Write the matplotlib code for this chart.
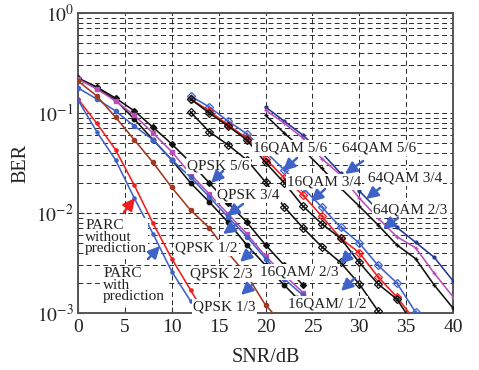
import matplotlib
matplotlib.use('Agg')
import matplotlib.pyplot as plt

plt.rcParams['font.family'] = ['Liberation Serif', 'DejaVu Serif']
plt.rcParams['mathtext.fontset'] = 'stix'

# ---------------- data ----------------
# QPSK family (start at 0 dB)
snr_qa = [0, 2, 4, 6, 8, 10, 12, 14, 16, 18, 20, 22, 24]
ber_q_black_a = [0.224, 0.182, 0.141, 0.105, 0.072, 0.049, 0.032, 0.020, 0.0126, 0.0081, 0.0048, 0.0030, 0.0019]
snr_qb = [0, 2, 4, 6, 8, 10, 12, 14, 16, 18, 20, 22, 23.4]
ber_q_black_b = [0.219, 0.178, 0.135, 0.087, 0.054, 0.034, 0.020, 0.0129, 0.0081, 0.0048, 0.0030, 0.0019, 0.0014]
ber_q_magenta = [0.219, 0.174, 0.132, 0.095, 0.063, 0.041, 0.0245, 0.0155, 0.0098, 0.0062, 0.0037, 0.0024, 0.0016]
ber_q_blue = [0.178, 0.138, 0.105, 0.074, 0.054, 0.034, 0.0229, 0.0145, 0.0091, 0.0058, 0.0035, 0.0022, 0.0015]
snr_q13 = [0, 2, 4, 6, 8, 10, 12, 14, 16, 18, 20, 21]
ber_q13 = [0.209, 0.148, 0.091, 0.054, 0.032, 0.018, 0.0107, 0.0071, 0.0040, 0.0024, 0.0012, 0.00095]

# PARC curves
snr_parc_wo = [0, 2, 4, 6, 8, 10, 12, 14]
ber_parc_wo = [0.138, 0.079, 0.043, 0.019, 0.0079, 0.0035, 0.0017, 0.00083]
snr_parc_w = [0, 2, 4, 6, 8, 10, 12]
ber_parc_w = [0.135, 0.065, 0.034, 0.0141, 0.0062, 0.0026, 0.00132]

# 16QAM family (start at 12 dB)
snr_16 = [12, 14, 16, 18, 20, 22, 24, 26, 28, 30, 32, 34, 36]
ber_16_blue = [0.148, 0.115, 0.083, 0.062, 0.041, 0.027, 0.0178, 0.0115, 0.0072, 0.0050, 0.0030, 0.0020, 0.00102]
ber_16_red = [0.138, 0.105, 0.076, 0.056, 0.035, 0.0224, 0.0151, 0.0093, 0.0056, 0.0040, 0.0023, 0.00145, 0.00083]
ber_16_black_a = [0.138, 0.100, 0.074, 0.054, 0.032, 0.020, 0.0117, 0.0078, 0.0056, 0.0032, 0.00195, 0.00138, 0.00072]
snr_16b = [12, 14, 16, 18, 20, 22, 24, 26, 28, 30, 32]
ber_16_black_b = [0.102, 0.065, 0.048, 0.034, 0.0204, 0.0115, 0.0071, 0.0046, 0.0032, 0.00195, 0.00105]

# 64QAM family (start at 20 dB)
snr_64 = [20, 22, 24, 26, 28, 30, 32, 34, 36, 38, 40]
ber_64_navy = [0.115, 0.083, 0.060, 0.040, 0.025, 0.0166, 0.0107, 0.0072, 0.0051, 0.0036, 0.0021]
ber_64_magenta = [0.107, 0.079, 0.056, 0.035, 0.024, 0.0141, 0.0089, 0.0058, 0.0045, 0.0025, 0.00145]
ber_64_black = [0.095, 0.063, 0.043, 0.028, 0.0178, 0.0117, 0.0076, 0.0048, 0.0035, 0.0019, 0.00112]

# labels
label_texts = ['PARC\nwithout\nprediction', 'PARC\nwith\nprediction',
               'QPSK 5/6', 'QPSK 3/4', 'QPSK 1/2', 'QPSK 2/3', 'QPSK 1/3',
               '16QAM 5/6', '64QAM 5/6', '16QAM 3/4', '64QAM 3/4', '64QAM 2/3',
               '16QAM/ 2/3', '16QAM/ 1/2']
xtick_vals = [0, 5, 10, 15, 20, 25, 30, 35, 40]
xtick_labels = ['0', '5', '10', '15', '20', '25', '30', '35', '40']
ytick_vals = [1e-3, 1e-2, 1e-1, 1e0]
ytick_labels = ['$10^{-3}$', '$10^{-2}$', '$10^{-1}$', '$10^{0}$']

# ---------------- figure ----------------
W, H = 479, 370
fig = plt.figure(figsize=(W / 100, H / 100), dpi=100)
ax = fig.add_axes([78 / W, 57 / H, 375 / W, 300 / H])
ax.set_yscale('log')
ax.set_xlim(0, 40)
ax.set_ylim(1e-3, 1)

BLACK = '#111111'
MAG = '#b84fb8'
BLUE = '#3f62c8'
BROWN = '#a03a22'
RED = '#f01e1e'
NAVY = '#24398f'

lw = 1.15
# QPSK
ax.plot(snr_qa, ber_q_black_a, color=BLACK, lw=lw, marker='D', ms=3.0, zorder=3)
ax.plot(snr_qb, ber_q_black_b, color=BLACK, lw=lw, marker='o', ms=3.2, zorder=3)
ax.plot(snr_qa, ber_q_magenta, color=MAG, lw=lw, marker='s', ms=3.2, zorder=3)
ax.plot(snr_qa, ber_q_blue, color=BLUE, lw=lw, marker='o', ms=3.0, zorder=3)
ax.plot(snr_q13, ber_q13, color=BROWN, lw=lw, marker='o', ms=3.0, zorder=3)
# PARC
ax.plot(snr_parc_wo, ber_parc_wo, color=RED, lw=lw, marker='o', ms=2.3, zorder=3)
ax.plot(snr_parc_w, ber_parc_w, color=BLUE, lw=lw, marker='o', ms=2.3, zorder=3)
# 16QAM
for ys, c, inner in [(ber_16_blue, BLUE, '+'), (ber_16_red, RED, '+'),
                     (ber_16_black_a, BLACK, 'x')]:
    ax.plot(snr_16, ys, color=c, lw=lw, marker='D', ms=4.4, mfc='none', mew=0.9, zorder=3)
    ax.plot(snr_16, ys, ls='none', color=c, marker=inner, ms=3.2, mew=0.8, zorder=3)
ax.plot(snr_16b, ber_16_black_b, color=BLACK, lw=lw, marker='D', ms=4.4, mfc='none', mew=0.9, zorder=3)
ax.plot(snr_16b, ber_16_black_b, ls='none', color=BLACK, marker='x', ms=3.2, mew=0.8, zorder=3)
# 64QAM
ax.plot(snr_64, ber_64_navy, color=NAVY, lw=lw, marker='.', ms=4, zorder=3)
ax.plot(snr_64, ber_64_magenta, color=MAG, lw=lw, marker='+', ms=3.5, zorder=3)
ax.plot(snr_64, ber_64_black, color=BLACK, lw=lw, marker='+', ms=3.5, zorder=3)

# grid
ax.grid(True, which='major', axis='both', color='#2a2a2a', lw=0.7, ls=(0, (5, 3.5)), zorder=1)
ax.grid(True, which='minor', axis='y', color='#2a2a2a', lw=0.7, ls=(0, (5, 3.5)), zorder=1)
ax.set_axisbelow(True)

ax.set_xticks(xtick_vals)
ax.set_xticklabels(xtick_labels)
ax.set_yticks(ytick_vals)
ax.set_yticklabels(ytick_labels)
ax.minorticks_on()
ax.xaxis.set_minor_locator(matplotlib.ticker.NullLocator())
ax.tick_params(which='both', direction='in', labelsize=14, colors='#333333', labelcolor='#222222')
ax.tick_params(which='major', length=4)
ax.tick_params(which='minor', length=2.5)
ax.tick_params(axis='x', pad=4)
ax.tick_params(axis='y', pad=3)
for s in ax.spines.values():
    s.set_color('#555555')
    s.set_linewidth(1.4)

ax.set_xlabel('SNR/dB', fontsize=14.5, color='#222222')
ax.set_ylabel('BER', fontsize=14.5, color='#222222')
ax.xaxis.set_label_coords(0.5, -0.115)
ax.yaxis.set_label_coords(-0.128, 0.5)

# labels (data coords)
label_pos = [(0.75, 5.75e-3), (2.67, 1.9e-3),
             (11.63, 0.0295), (14.83, 0.0151), (10.35, 4.47e-3), (11.95, 2.45e-3), (12.27, 1.15e-3),
             (18.67, 0.0447), (28.16, 0.0447), (22.29, 0.0204), (30.93, 0.0224), (31.47, 0.0107),
             (19.41, 2.57e-3), (22.4, 1.23e-3)]
for t, (x, y) in zip(label_texts, label_pos):
    ax.text(x, y, t, fontsize=11, ha='left', va='center', linespacing=0.88, color='#222222',
            bbox=dict(boxstyle='square,pad=0.08', fc='white', ec='none'), zorder=5)

# arrows: (head, tail) in data coords
arrows = [((6.08, 10 ** -1.85), (4.91, 10 ** -1.99), RED),
          ((8.75, 10 ** -2.33), (7.47, 10 ** -2.46), BLUE),
          ((14.19, 10 ** -1.70), (15.47, 10 ** -1.58), BLUE),
          ((15.89, 10 ** -2.03), (17.6, 10 ** -1.91), BLUE),
          ((15.47, 10 ** -2.21), (16.96, 10 ** -2.11), BLUE),
          ((17.28, 10 ** -2.49), (18.56, 10 ** -2.38), BLUE),
          ((17.39, 10 ** -2.82), (18.67, 10 ** -2.71), BLUE),
          ((21.87, 10 ** -1.58), (23.36, 10 ** -1.45), BLUE),
          ((28.48, 10 ** -1.61), (30.4, 10 ** -1.48), BLUE),
          ((24.85, 10 ** -1.89), (26.35, 10 ** -1.76), BLUE),
          ((30.72, 10 ** -1.86), (32.21, 10 ** -1.75), BLUE),
          ((32.53, 10 ** -2.16), (34.13, 10 ** -2.05), BLUE),
          ((27.95, 10 ** -2.51), (29.23, 10 ** -2.39), BLUE),
          ((28.05, 10 ** -2.78), (29.55, 10 ** -2.65), BLUE)]
for head, tail, c in arrows:
    ax.annotate('', xy=head, xytext=tail, zorder=6,
                arrowprops=dict(arrowstyle='-|>,head_length=0.7,head_width=0.35',
                                color=c, lw=1.8, shrinkA=0, shrinkB=0))

fig.savefig('out.png', dpi=100)
